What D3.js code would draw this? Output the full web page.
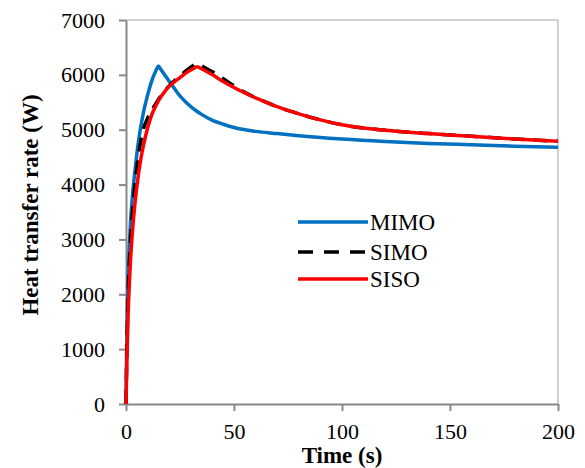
<!DOCTYPE html>
<html><head><meta charset="utf-8">
<script src="https://cdn.jsdelivr.net/npm/d3@7"></script>
<style>
body{margin:0;background:#fff;}
text{font-family:"Liberation Serif","Times New Roman",serif;fill:#000;}
</style></head>
<body>
<svg id="c" width="585" height="468"></svg>
<script>
const xTicks = [0, 50, 100, 150, 200];
const yTicks = [0, 1000, 2000, 3000, 4000, 5000, 6000, 7000];
const seriesNames = ["MIMO", "SIMO", "SISO"];

const mimoT = [0,0.3,0.6,1,1.5,2,3,4,5,6,8,10,12,14,15,16,18,20,22,24,26,28,30,32,35,40,45,50,60,70,80,100,120,140,160,180,200];
const mimoV = [0,1000,1700,2300,2850,3250,3800,4200,4550,4850,5300,5630,5900,6090,6160,6105,5995,5885,5775,5665,5570,5490,5420,5360,5280,5170,5100,5040,4970,4930,4890,4830,4785,4750,4725,4700,4680];

const simoT = [0,0.5,1,2,3,4,5,6,7,8,10,12,14,16,18,20,22,25,28,31,32,34,37,40,45,50,55,60,65,70,80,90,100,120,140,160,180,200];
const simoV = [0,1200,2000,2900,3500,3950,4300,4600,4820,5000,5210,5360,5490,5610,5710,5800,5880,5980,6080,6170,6200,6180,6120,6055,5930,5800,5680,5585,5500,5420,5290,5180,5090,4990,4930,4880,4830,4790];

const sisoT = [0,0.5,1,2,3,4,5,6,7,8,10,12,14,16,18,20,22,25,28,31,33,35,40,45,50,55,60,65,70,80,90,100,120,140,160,180,200];
const sisoV = [0,950,1650,2550,3150,3600,3950,4250,4500,4700,5030,5280,5450,5590,5700,5790,5860,5950,6040,6110,6150,6110,6000,5880,5770,5670,5580,5500,5420,5290,5180,5090,4990,4930,4880,4830,4790];

const colors = {MIMO:"#0070C0", SIMO:"#000000", SISO:"#FF0000"};

const svg = d3.select("#c");
const L = 126, R = 558, T = 20, B = 404;
const x = d3.scaleLinear().domain([0,200]).range([L,R]);
const y = d3.scaleLinear().domain([0,7000]).range([B,T]);

// plot border (top/right)
svg.append("line").attr("x1",L).attr("x2",R).attr("y1",T).attr("y2",T).attr("stroke","#d0d0d0").attr("stroke-width",2);
svg.append("line").attr("x1",R).attr("x2",R).attr("y1",T).attr("y2",B).attr("stroke","#d0d0d0").attr("stroke-width",2);

const yAxis = svg.append("g").attr("transform",`translate(${L},0)`)
  .call(d3.axisLeft(y).tickValues(yTicks).tickFormat(d3.format("d")).tickSize(7).tickSizeOuter(0).tickPadding(14));
const xAxis = svg.append("g").attr("transform",`translate(0,${B})`)
  .call(d3.axisBottom(x).tickValues(xTicks).tickFormat(d3.format("d")).tickSize(7).tickSizeOuter(0).tickPadding(12));
[xAxis,yAxis].forEach(g=>{
  g.selectAll("path,line").attr("stroke","#888").attr("stroke-width",2);
  g.selectAll("text").attr("font-size","22px").attr("font-family","Liberation Serif, Times New Roman, serif").attr("fill","#000");
});

const line = d3.line().x(d=>x(d[0])).y(d=>y(d[1])).curve(d3.curveMonotoneX);
const mk = (t,v)=>t.map((d,i)=>[d,v[i]]);
const data = {MIMO:mk(mimoT,mimoV), SIMO:mk(simoT,simoV), SISO:mk(sisoT,sisoV)};

svg.append("path").datum(data.MIMO).attr("d",line).attr("fill","none").attr("stroke",colors.MIMO).attr("stroke-width",3.5);
svg.append("path").datum(data.SIMO).attr("d",line).attr("fill","none").attr("stroke",colors.SIMO).attr("stroke-width",3.5).attr("stroke-dasharray","14,9");
svg.append("path").datum(data.SISO).attr("d",line).attr("fill","none").attr("stroke",colors.SISO).attr("stroke-width",3.5);

// legend
const legY = [222, 252, 279];
seriesNames.forEach((n,i)=>{
  const g = svg.append("g");
  g.append("line").attr("x1",298).attr("x2",368).attr("y1",legY[i]).attr("y2",legY[i])
    .attr("stroke",colors[n]).attr("stroke-width",3.5)
    .attr("stroke-dasharray", n==="SIMO" ? "15,11" : null);
  g.append("text").attr("x",370).attr("y",legY[i]+7.5).attr("font-size","23px").text(n);
});

// axis titles
svg.append("text").attr("x",342).attr("y",463).attr("text-anchor","middle").attr("font-size","23px").attr("font-weight","bold").text("Time (s)");
svg.append("text").attr("transform","translate(38,205) rotate(-90)").attr("text-anchor","middle").attr("font-size","23px").attr("font-weight","bold").text("Heat transfer rate (W)");
</script>
</body></html>
